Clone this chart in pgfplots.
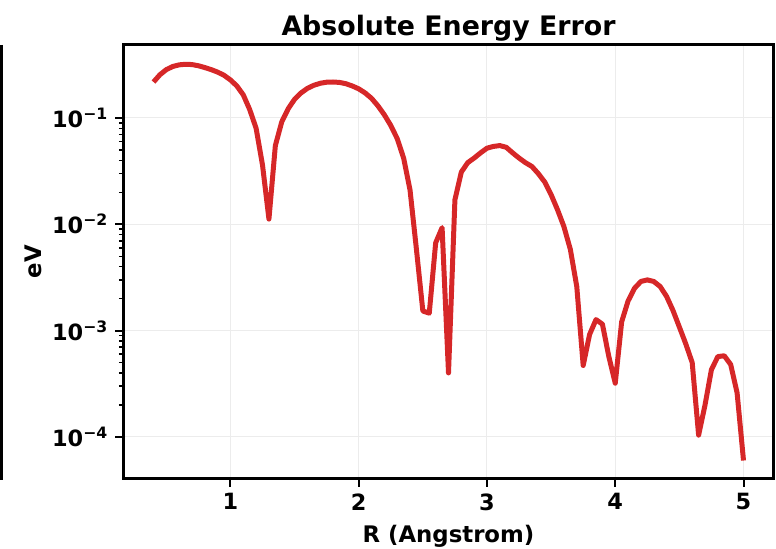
\documentclass[border=0pt]{standalone}
\usepackage{fontspec}
\setmainfont{DejaVu Sans}
\usepackage{pgfplots}
\pgfplotsset{compat=1.18}
\definecolor{tabred}{HTML}{D62728}
\begin{document}
\begin{tikzpicture}
\path[use as bounding box] (-62pt,-35.5pt) rectangle (326pt,239pt);
\draw[line width=1.25pt] (-61.3pt,216.5pt) -- (-61.3pt,-1pt);
\begin{axis}[
  scale only axis, width=324.5pt, height=216.5pt,
  at={(0,0)}, anchor=south west,
  ymode=log,
  xmin=0.17, xmax=5.23, ymin=4.11e-5, ymax=0.486,
  xtick={1,2,3,4,5},
  ytick={1e-4,1e-3,1e-2,1e-1},
  yticklabels={{10\textsuperscript{−4}},{10\textsuperscript{−3}},{10\textsuperscript{−2}},{10\textsuperscript{−1}}},
  /pgf/number format/assume math mode=true,
  ticklabel style={font=\fontsize{11.2}{13}\selectfont\bfseries},
  tick pos=left, tick align=outside,
  major tick length=4.3pt, minor tick length=2.6pt,
  every tick/.style={black, line width=1pt},
  minor tick style={line width=0.75pt},
  axis line style={line width=1.5pt},
  grid=major, major grid style={gray!15, line width=0.5pt},
  every axis title shift=0pt,
  title={Absolute Energy Error},
  title style={font=\fontsize{13.4}{15}\selectfont\bfseries, at={(axis description cs:0.5,1.0208)}, anchor=base},
  xlabel={R (Angstrom)}, ylabel={eV},
  label style={font=\fontsize{11.4}{13}\selectfont\bfseries},
  xlabel style={at={(axis description cs:0.5,-0.1501)}, anchor=base},
  ylabel style={at={(axis description cs:-0.1275,0.5)}, anchor=base},
]
\addplot[tabred, line width=2.5pt, line join=round] table {
0.40 0.218
0.45 0.255
0.50 0.285
0.55 0.305
0.60 0.316
0.65 0.320
0.70 0.318
0.75 0.310
0.80 0.298
0.85 0.285
0.90 0.270
0.95 0.252
1.00 0.228
1.05 0.200
1.10 0.165
1.15 0.120
1.20 0.080
1.25 0.036
1.30 0.0112
1.35 0.055
1.40 0.092
1.45 0.122
1.50 0.150
1.55 0.172
1.60 0.190
1.65 0.203
1.70 0.212
1.75 0.217
1.80 0.218
1.85 0.216
1.90 0.210
1.95 0.200
2.00 0.188
2.05 0.172
2.10 0.153
2.15 0.130
2.20 0.107
2.25 0.085
2.30 0.064
2.35 0.042
2.40 0.021
2.45 0.0058
2.50 0.00153
2.55 0.00146
2.60 0.0067
2.65 0.0093
2.70 0.00040
2.75 0.017
2.80 0.031
2.85 0.038
2.90 0.042
2.95 0.047
3.00 0.052
3.05 0.054
3.10 0.055
3.15 0.053
3.20 0.047
3.25 0.042
3.30 0.038
3.35 0.035
3.40 0.030
3.45 0.025
3.50 0.019
3.55 0.0137
3.60 0.0095
3.65 0.0058
3.70 0.0026
3.75 0.00047
3.80 0.00092
3.85 0.00127
3.90 0.00115
3.95 0.00057
4.00 0.00032
4.05 0.00121
4.10 0.0019
4.15 0.0025
4.20 0.0029
4.25 0.0030
4.30 0.0029
4.35 0.0026
4.40 0.0021
4.45 0.00155
4.50 0.00108
4.55 0.00075
4.60 0.00050
4.65 0.000104
4.70 0.00020
4.75 0.00043
4.80 0.00057
4.85 0.00058
4.90 0.00048
4.95 0.00026
5.00 0.000060
};
\end{axis}
\end{tikzpicture}
\end{document}
